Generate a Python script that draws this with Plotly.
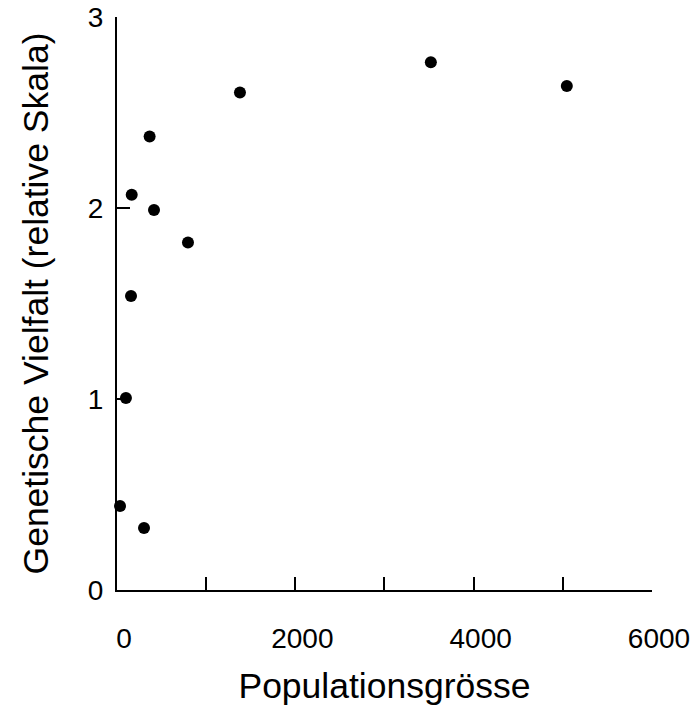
import plotly.graph_objects as go

population = [34, 303, 100, 157, 165, 415, 366, 796, 1379, 3520, 5045]
diversity = [0.44, 0.325, 1.005, 1.54, 2.07, 1.99, 2.375, 1.82, 2.606, 2.764, 2.64]

x_ticks = [0, 1000, 2000, 3000, 4000, 5000, 6000]
x_ticktext = ["0", "", "2000", "", "4000", "", "6000"]
y_ticks = [0, 1, 2, 3]
y_ticktext = ["0", "1", "2", "3"]

FONT = "Liberation Sans, Arial, Helvetica, sans-serif"

fig = go.Figure(go.Scatter(
    x=population, y=diversity, mode="markers",
    marker=dict(color="black", size=12, line=dict(width=0)),
    cliponaxis=False,
))

fig.update_layout(
    width=691, height=706,
    margin=dict(l=117, r=39, t=17, b=116, autoexpand=False),
    paper_bgcolor="white", plot_bgcolor="white",
    showlegend=False,
    font=dict(family=FONT, color="black"),
)
fig.update_xaxes(
    range=[0, 6000.5], tickvals=x_ticks, ticktext=x_ticktext,
    ticks="inside", ticklen=13, tickwidth=2, tickcolor="black",
    showline=True, linewidth=2, linecolor="black",
    showgrid=False, zeroline=False, automargin=False,
    tickfont=dict(size=28, family=FONT),
    ticklabelstandoff=22, ticklabelshift=7,
    title=dict(text="Populationsgrösse", font=dict(size=35.5, family=FONT), standoff=25),
)
fig.update_yaxes(
    range=[0, 3.001], tickvals=y_ticks, ticktext=y_ticktext,
    ticks="inside", ticklen=13, tickwidth=2, tickcolor="black",
    showline=True, linewidth=2, linecolor="black",
    showgrid=False, zeroline=False, automargin=False,
    tickfont=dict(size=28, family=FONT),
    ticklabelstandoff=6,
    title=dict(text="Genetische Vielfalt (relative Skala)", font=dict(size=35.5, family=FONT), standoff=28),
)

fig.write_html("out.html")
